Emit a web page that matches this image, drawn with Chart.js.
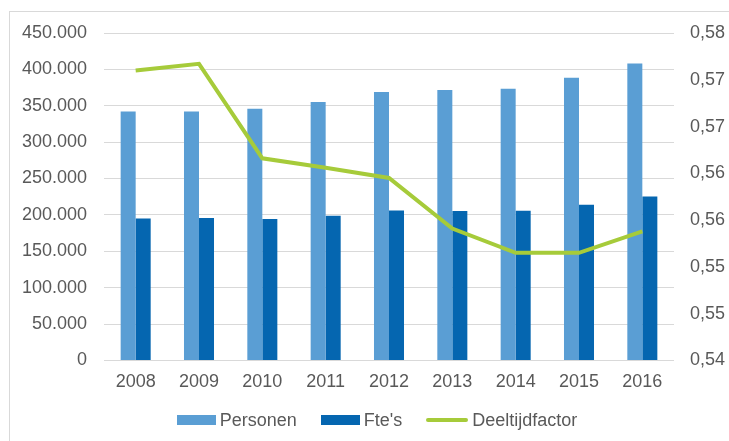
<!DOCTYPE html>
<html>
<head>
<meta charset="utf-8">
<script src="https://cdn.jsdelivr.net/npm/chart.js@4"></script>
<style>
  html, body { margin: 0; padding: 0; background: #fff; overflow: hidden; }
  #frame { position: absolute; left: 9px; top: 11px; width: 740px; height: 460px; border: 1px solid #D9D9D9; box-sizing: border-box; }
  #chart { position: absolute; left: 0; top: 0; }
  #legend { position: absolute; left: 9px; width: 736px; top: 409px; height: 22px;
            display: flex; justify-content: center; align-items: center;
            font: 18px "Liberation Sans", Arial, sans-serif; color: #595959; }
  #legend .item { display: flex; align-items: center; margin: 0 12px; white-space: pre; }
  #legend .swatch { margin-right: 4px; }
</style>
</head>
<body>
<div id="frame"></div>
<canvas id="chart" width="729" height="441"></canvas>
<div id="legend"></div>
<script>
/* Data */
const years = ['2008', '2009', '2010', '2011', '2012', '2013', '2014', '2015', '2016'];
const personen = [342000, 342000, 346000, 355000, 369000, 371500, 373500, 388500, 408000];
const ftes = [195000, 195700, 194300, 198800, 206000, 205300, 205700, 214000, 225400];
const deeltijdfactor = [0.5710, 0.5717, 0.5616, 0.5606, 0.5595, 0.5541, 0.5515, 0.5515, 0.5538];
const rightTickLabels = ['0,54', '0,55', '0,55', '0,56', '0,56', '0,57', '0,57', '0,58'];

const TEXT = '#595959';
const GRID = '#D9D9D9';
const FONT = { family: '"Liberation Sans", Arial, sans-serif', size: 18 };

/* thousands separator with a dot, like the original */
function formatThousands(value) {
  return String(Math.round(value)).replace(/\B(?=(\d{3})+(?!\d))/g, '.');
}

const ctx = document.getElementById('chart').getContext('2d');
const myChart = new Chart(ctx, {
  type: 'bar',
  data: {
    labels: years,
    datasets: [{
        label: 'Personen',
        data: personen,
        backgroundColor: '#5A9ED4',
        yAxisID: 'y',
        order: 1
      }, {
        label: "Fte's",
        data: ftes,
        backgroundColor: '#0566B0',
        yAxisID: 'y',
        order: 1
      }, {
        type: 'line',
        label: 'Deeltijdfactor',
        data: deeltijdfactor,
        borderColor: '#A6CB3A',
        backgroundColor: '#A6CB3A',
        borderWidth: 4,
        pointRadius: 0,
        tension: 0,
        yAxisID: 'y1',
        order: 0
      }],
  },
  options: {
    responsive: false,
    animation: false,
    layout: { padding: { top: 33, bottom: 37, left: 0, right: 0 } },
    datasets: {
      bar: { categoryPercentage: 0.474, barPercentage: 1 }
    },
    plugins: {
      tooltip: { enabled: false },
      legend: { display: false }
    },
    scales: {
      x: {
        grid: { display: false, drawTicks: false },
        border: { display: false },
        ticks: { color: TEXT, font: FONT, padding: 11 }
      },
      y: {
        position: 'left',
        min: 0,
        max: 450000,
        ticks: {
          stepSize: 50000,
          color: TEXT,
          font: FONT,
          padding: 17,
          callback: (v) => formatThousands(v)
        },
        grid: { color: GRID, lineWidth: 1, drawTicks: false },
        border: { display: false },
        afterFit: (scale) => { scale.width = 104; }
      },
      y1: {
        position: 'right',
        min: 0.54,
        max: 0.575,
        ticks: {
          stepSize: 0.005,
          color: TEXT,
          font: FONT,
          padding: 16,
          callback: (v, i) => rightTickLabels[i]
        },
        grid: { display: false, drawTicks: false },
        border: { display: false },
        afterFit: (scale) => { scale.width = 55; }
      }
    }
  }
});

/* Legend as HTML, built from the datasets */
const legendEl = document.getElementById('legend');
myChart.data.datasets.forEach(function (ds) {
  const item = document.createElement('div');
  item.className = 'item';
  const swatch = document.createElement('span');
  swatch.className = 'swatch';
  if (ds.type === 'line') {
    swatch.style.cssText = 'width:42px;height:4px;border-radius:2px;background:' + ds.borderColor;
  } else {
    swatch.style.cssText = 'width:39px;height:10px;background:' + ds.backgroundColor;
  }
  const text = document.createElement('span');
  text.textContent = ds.label;
  item.appendChild(swatch);
  item.appendChild(text);
  legendEl.appendChild(item);
});
</script>
</body>
</html>
